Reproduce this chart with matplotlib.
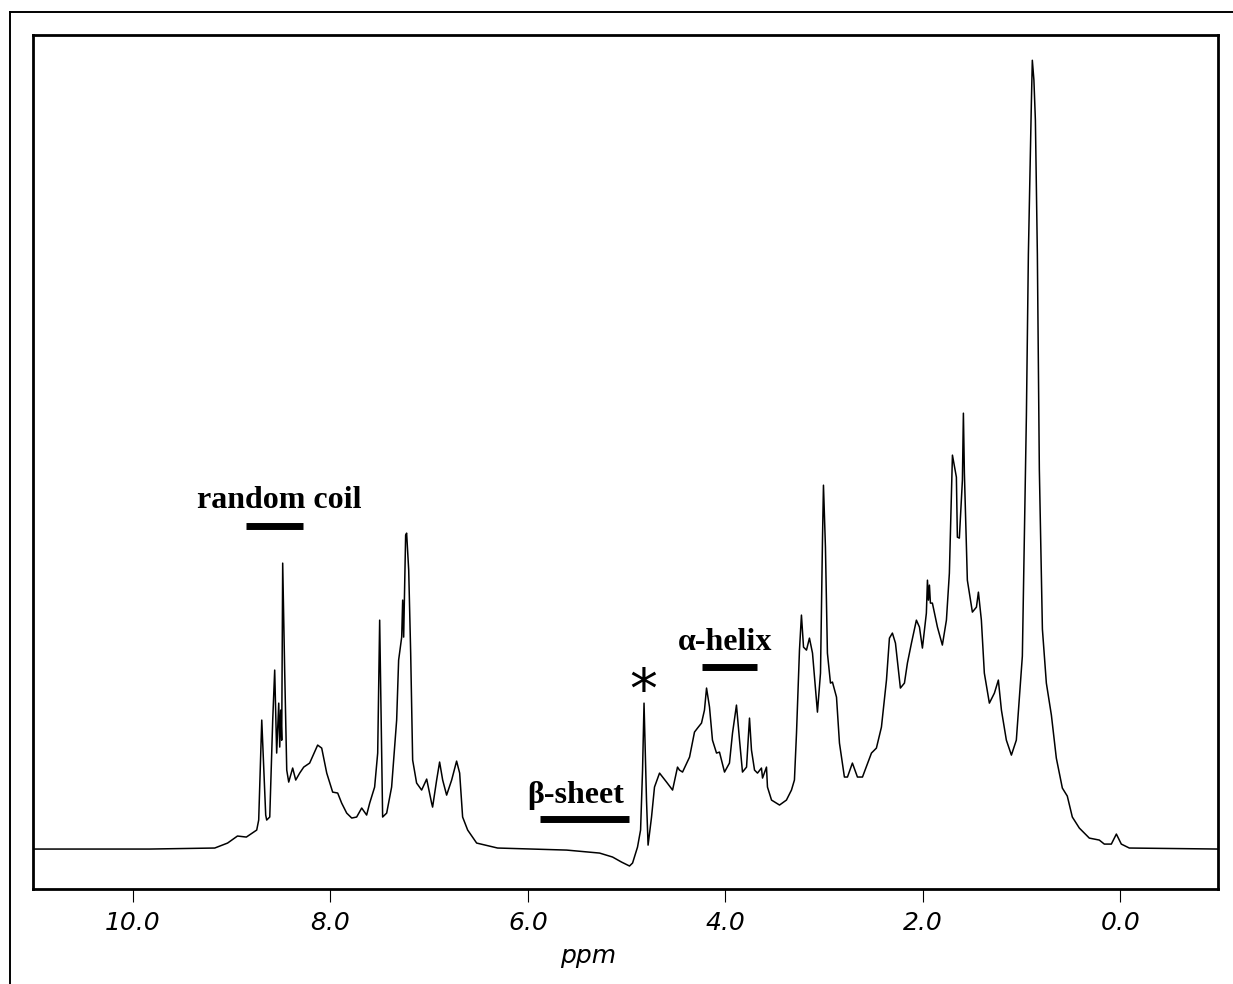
import matplotlib
matplotlib.use("Agg")
import matplotlib.pyplot as plt
from matplotlib.lines import Line2D


# 1H spectrum
# chemical shift in ppm, intensity scaled so the tallest peak is 100
ppm = [
    11.0, 9.83, 9.17, 9.04, 8.94, 8.85, 8.745, 8.725, 8.694, 8.654,
    8.644, 8.613, 8.583, 8.563, 8.543, 8.522, 8.512, 8.502, 8.492, 8.482,
    8.462, 8.441, 8.421, 8.381, 8.350, 8.310, 8.269, 8.209, 8.128, 8.087,
    8.036, 7.976, 7.925, 7.885, 7.834, 7.783, 7.733, 7.682, 7.632, 7.601,
    7.551, 7.520, 7.500, 7.480, 7.470, 7.429, 7.379, 7.328, 7.308, 7.277,
    7.267, 7.257, 7.237, 7.227, 7.206, 7.186, 7.166, 7.126, 7.075, 7.024,
    6.974, 6.964, 6.923, 6.893, 6.862, 6.822, 6.771, 6.721, 6.690, 6.660,
    6.609, 6.518, 6.306, 5.951, 5.607, 5.273, 5.142, 5.051, 4.970, 4.939,
    4.889, 4.858, 4.838, 4.823, 4.808, 4.798, 4.782, 4.747, 4.717, 4.666,
    4.595, 4.534, 4.484, 4.464, 4.433, 4.362, 4.312, 4.281, 4.241, 4.211,
    4.190, 4.160, 4.130, 4.089, 4.059, 4.008, 3.958, 3.927, 3.887, 3.856,
    3.826, 3.785, 3.755, 3.735, 3.704, 3.674, 3.634, 3.623, 3.583, 3.573,
    3.532, 3.451, 3.381, 3.330, 3.300, 3.279, 3.249, 3.229, 3.208, 3.178,
    3.148, 3.117, 3.067, 3.036, 3.016, 3.006, 2.986, 2.966, 2.935, 2.915,
    2.874, 2.844, 2.794, 2.763, 2.713, 2.662, 2.611, 2.520, 2.470, 2.419,
    2.368, 2.338, 2.308, 2.277, 2.227, 2.186, 2.156, 2.115, 2.065, 2.034,
    2.004, 1.964, 1.953, 1.943, 1.933, 1.923, 1.903, 1.852, 1.802, 1.761,
    1.731, 1.700, 1.660, 1.650, 1.630, 1.599, 1.589, 1.579, 1.549, 1.498,
    1.457, 1.437, 1.407, 1.377, 1.326, 1.275, 1.235, 1.204, 1.154, 1.103,
    1.053, 0.992, 0.951, 0.931, 0.901, 0.891, 0.875, 0.860, 0.840, 0.820,
    0.789, 0.749, 0.698, 0.648, 0.587, 0.537, 0.486, 0.415, 0.314, 0.213,
    0.162, 0.091, 0.040, -0.010, -0.091, -1.0,
]
intensity = [
    0.0, 0.0, 0.13, 0.76, 1.65, 1.52, 2.41, 3.68, 16.35, 4.31,
    3.68, 4.06, 16.35, 22.69, 12.17, 18.5, 12.93, 17.62, 13.8, 36.25,
    22.69, 10.01, 8.49, 10.27, 8.75, 9.63, 10.39, 10.9, 13.18, 12.8,
    9.63, 7.22, 7.10, 5.83, 4.56, 3.93, 4.06, 5.20, 4.31, 5.83,
    7.86, 12.17, 29.02, 12.55, 4.06, 4.56, 7.86, 16.35, 23.95, 26.87,
    31.56, 26.87, 39.8, 40.05, 35.36, 24.84, 11.28, 8.37, 7.48, 8.87,
    5.83, 5.32, 8.75, 11.03, 8.75, 6.84, 8.75, 11.15, 9.63, 4.06,
    2.41, 0.76, 0.13, 0.0, -0.13, -0.51, -1.01, -1.65, -2.15, -1.77,
    0.25, 2.41, 10.0, 18.5, 11.3, 6.21, 0.5, 4.06, 7.86, 9.63,
    8.49, 7.48, 10.39, 10.01, 9.76, 11.66, 14.83, 15.34, 15.97, 17.62,
    20.41, 18.0, 13.81, 12.17, 12.29, 9.76, 10.9, 14.7, 18.25, 13.81,
    9.76, 10.39, 16.6, 12.55, 10.01, 9.63, 10.27, 9.0, 10.39, 7.86,
    6.21, 5.58, 6.21, 7.48, 8.75, 14.7, 25.22, 29.66, 25.6, 25.22,
    26.74, 24.84, 17.36, 22.31, 39.16, 46.13, 38.28, 24.84, 21.04, 21.17,
    19.26, 13.43, 9.13, 9.13, 10.9, 9.13, 9.13, 12.17, 12.8, 15.46,
    21.42, 26.74, 27.38, 26.11, 20.41, 21.04, 23.57, 26.11, 29.02, 28.14,
    25.48, 29.91, 34.09, 31.56, 33.46, 31.18, 31.18, 28.14, 25.86, 29.02,
    34.98, 49.94, 47.15, 39.54, 39.42, 46.77, 55.26, 47.66, 34.09, 30.04,
    30.67, 32.57, 29.02, 22.31, 18.5, 19.77, 21.42, 17.62, 13.81, 11.91,
    13.81, 24.46, 55.0, 75.41, 94.42, 100.0, 97.5, 92.4, 75.41, 48.16,
    27.88, 21.04, 16.98, 11.53, 7.73, 6.72, 4.06, 2.66, 1.39, 1.14,
    0.63, 0.63, 1.90, 0.63, 0.13, 0.0,
]

tick_ppm = [10.0, 8.0, 6.0, 4.0, 2.0, 0.0]
tick_labels = ["10.0", "8.0", "6.0", "4.0", "2.0", "0.0"]

# shift ranges marked on the spectrum
region_names = ["random coil", "β-sheet", "α-helix"]
region_from = [8.85, 5.88, 4.24]
region_to = [8.28, 4.98, 3.68]

# water signal marked with an asterisk
water_ppm = 4.83


fig = plt.figure(figsize=(12.33, 9.84), dpi=100)
ax = fig.add_axes([0.0268, 0.0965, 0.9611, 0.8679])

ax.plot(ppm, intensity, color="black", lw=1.1)

ax.set_xlim(11.01, -0.99)
ax.set_ylim(-5.07, 103.2)
ax.set_yticks([])
ax.set_xticks(tick_ppm)
ax.set_xticklabels(tick_labels, fontstyle="italic", fontsize=18,
                   family="DejaVu Sans", fontweight="light")
ax.tick_params(axis="x", direction="out", length=9, width=0.8, pad=7)
ax.set_xlabel("ppm", fontstyle="italic", fontsize=18)
ax.xaxis.set_label_coords(0.468, -0.064)

for side in ax.spines.values():
    side.set_linewidth(2.0)

# bars and labels for the shift ranges
bar_y = [40.9, 3.8, 23.1]
label_x = [8.52, 5.52, 4.0]
label_y = [43.2, 5.83, 25.2]
for name, a, b, by, lx, ly in zip(region_names, region_from, region_to,
                                  bar_y, label_x, label_y):
    ax.plot([a, b], [by, by], color="black", lw=5, solid_capstyle="butt")
    ax.text(lx, ly, name, ha="center", va="baseline", fontsize=23,
            family="Liberation Serif", fontweight="bold")

ax.text(water_ppm, 19.8, "*", ha="center", va="center", fontsize=40,
        family="DejaVu Sans")

# outer frame of the scanned page
fig.add_artist(Line2D([10 / 1233, 10 / 1233], [0, 1 - 12 / 984],
                      color="black", lw=1.4))
fig.add_artist(Line2D([10 / 1233, 1], [1 - 12 / 984, 1 - 12 / 984],
                      color="black", lw=1.4))

fig.savefig("out.png", dpi=100)
